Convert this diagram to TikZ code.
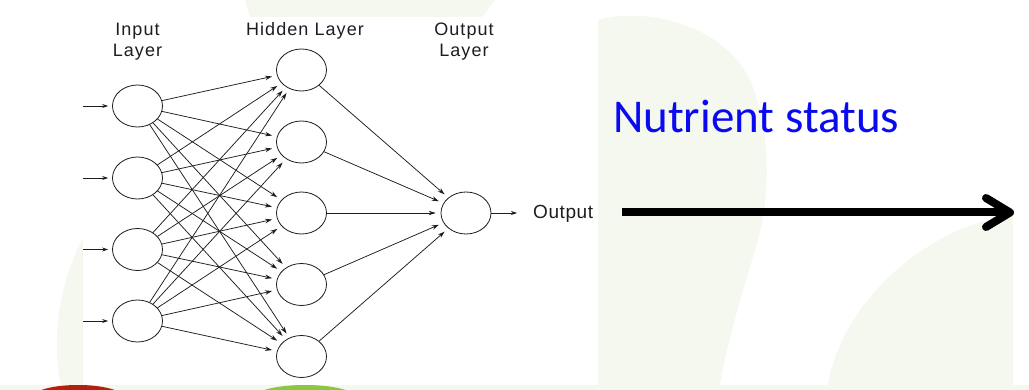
\documentclass[tikz,border=0pt]{standalone}
\usepackage{fontspec}
\setmainfont{Liberation Sans}
\newfontfamily\calib{Carlito}
\usetikzlibrary{arrows.meta,shapes.geometric}
\definecolor{bgg}{HTML}{F5F8EE}
\definecolor{redleaf}{HTML}{B3200E}
\definecolor{greenleaf}{HTML}{8DC63F}
\definecolor{nutblue}{HTML}{0A0AF0}
\definecolor{ink}{HTML}{1E1E1E}
\begin{document}
\begin{tikzpicture}[x=1pt,y=-1pt,
  neuron/.style={draw=ink,line width=0.8pt,ellipse,minimum width=50pt,minimum height=42pt,inner sep=0pt},
  conn/.style={draw=ink,line width=0.75pt,-{Stealth[length=7pt,width=4.5pt]},shorten >=5pt},
  inarr/.style={draw=ink,line width=0.75pt,-{Stealth[length=6pt,width=4pt]},shorten >=4pt},
  lbl/.style={font=\fontsize{18}{21}\selectfont\addfontfeature{LetterSpace=6},text=ink,inner sep=0pt,anchor=base},
  bigarrow/.style={line width=8pt,black},
  bg/.style={fill=bgg}
]
\useasboundingbox (0,0) rectangle (1029,390);
\clip (0,0) rectangle (1029,390);
% background
\fill[white] (0,0) rectangle (1029,390);
\fill[bg] (245,0) -- (495,0) -- (482,17) -- (250,17) -- cycle;
\fill[bg] (598,390) -- (598,20) .. controls (640,8) and (720,20) .. (750,80) .. controls (775,140) and (768,210) .. (755,250) .. controls (740,300) and (725,350) .. (719,390) -- cycle;
\fill[bg] (827,390) .. controls (840,300) and (930,225) .. (1013,215) -- (1013,390) -- cycle;
\fill[bg] (83,238) .. controls (60,280) and (50,340) .. (62,390) -- (83,390) -- cycle;
\fill[bg] (0,385) rectangle (1029,390);
\fill[white] (83,17) rectangle (598,385);
\fill[redleaf] (78,397) ellipse [x radius=45, y radius=12];
\fill[greenleaf] (305,397) ellipse [x radius=50, y radius=12];

% labels
\node[lbl] (tIn1) at (137.5,36) {Input};
\node[lbl] (tIn2) at (137.5,57) {Layer};
\node[lbl] (tHid) at (305,36) {Hidden Layer};
\node[lbl] (tOut1) at (464,36) {Output};
\node[lbl] (tOut2) at (464,57) {Layer};

% neurons
\foreach \k/\y in {1/106,2/178,3/249.5,4/321}{
  \node[neuron] (i\k) at (137.5,\y) {};
  \coordinate (s\k) at (83,\y);
  \draw[inarr] (s\k) -- (i\k);
}
\foreach \k/\y in {1/70,2/142,3/213,4/284.5,5/356.5}{
  \node[neuron] (h\k) at (301.5,\y) {};
}
\node[neuron] (o) at (466,213) {};

\foreach \a in {1,...,4}{
  \foreach \b in {1,...,5}{
    \draw[conn] (i\a) -- (h\b);
  }
}
\foreach \b in {1,...,5}{
  \draw[conn] (h\b) -- (o);
}
\coordinate (oe) at (521,213);
\draw[inarr] (o) -- (oe);
\node[font=\fontsize{19}{21}\selectfont\addfontfeature{LetterSpace=3},text=ink,anchor=base west,inner sep=0pt] (outtxt) at (533,219) {Output};

% right side
\node[font=\calib\fontsize{47}{50}\selectfont,text=nutblue,anchor=base west,inner sep=0pt] (nut) at (613,133) {Nutrient status};
\coordinate (a0) at (622,212.5);
\coordinate (a1) at (1008,212.5);
\coordinate (t1) at (986,198);
\coordinate (t2) at (1010,212.5);
\coordinate (t3) at (986,227);
\draw[bigarrow] (a0) -- (a1);
\draw[bigarrow,line cap=round,line join=round] (t1) -- (t2) -- (t3);
\end{tikzpicture}
\end{document}
